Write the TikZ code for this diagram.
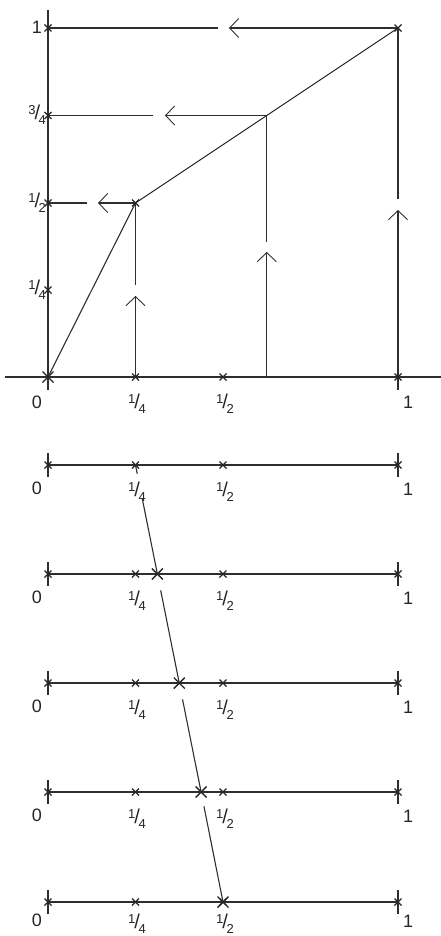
\documentclass[tikz,border=0pt]{standalone}
\usepackage{fontspec}
\setmainfont{Liberation Sans}
\usetikzlibrary{arrows.meta,calc}
\newcommand\frc[2]{{\fontsize{13}{13}\selectfont\raisebox{5pt}{#1}\kern-1pt{\fontsize{20}{20}\selectfont/}\kern-1.5pt\raisebox{-5pt}{#2}}}
\tikzset{
  ln/.style={line width=1.1pt, draw=black!82},
  arr/.style={ln, -{Straight Barb[length=9pt,width=19pt,line width=0.9pt]}},
  lbl/.style={inner sep=0pt, font=\fontsize{18}{18}\selectfont, text=black!85},
  frl/.style={inner sep=0pt, text=black!85},
  mk/.pic={\draw[line width=1.3pt, black!85] (-3.5,-3.5)--(3.5,3.5) (-3.5,3.5)--(3.5,-3.5);},
  bigmk/.pic={\draw[line width=1.4pt, black!85] (-5.5,-5.5)--(5.5,5.5) (-5.5,5.5)--(5.5,-5.5);}
}
\begin{document}
\begin{tikzpicture}[x=1pt,y=-1pt]
\useasboundingbox (0,0) rectangle (441,936);
% ---------- top graph ----------
\coordinate (O) at (48,377);
\coordinate (Vtop) at (48,10);
\coordinate (Vbot) at (48,390);
\coordinate (Hl) at (5,377);
\coordinate (Hr) at (441,377);
\coordinate (Y1) at (48,28);
\coordinate (Y34) at (48,115.5);
\coordinate (Y12) at (48,203);
\coordinate (Y14) at (48,290);
\coordinate (X14) at (135.5,377);
\coordinate (X12) at (223,377);
\coordinate (Xp) at (266.75,377);
\coordinate (X1) at (398,377);
\coordinate (X1b) at (398,390);
\coordinate (P1) at (135.5,203);
\coordinate (P2) at (266.75,115.5);
\coordinate (P3) at (398,28);
% axes
\draw[ln] (Vtop) -- (Vbot);
\draw[ln] (Hl) -- (Hr);
\draw[ln] (X1) -- (X1b);
% graph
\draw[ln] (O) -- (P1) -- (P2) -- (P3);
% horizontal arrows (toward the axis)
\coordinate (T1) at (229,28);   \coordinate (G1) at (218,28);
\coordinate (T2) at (165,115.5);\coordinate (G2) at (153,115.5);
\coordinate (T3) at (98,203);   \coordinate (G3) at (87,203);
\draw[arr] (P3) -- (T1); \draw[ln] (G1) -- (Y1);
\draw[arr] (P2) -- (T2); \draw[ln] (G2) -- (Y34);
\draw[arr] (P1) -- (T3); \draw[ln] (G3) -- (Y12);
% vertical arrows (upward)
\coordinate (U1) at (135.5,296); \coordinate (W1) at (135.5,285);
\coordinate (U2) at (266.75,252);\coordinate (W2) at (266.75,242);
\coordinate (U3) at (398,210);   \coordinate (W3) at (398,199);
\draw[arr] (X14) -- (U1); \draw[ln] (W1) -- (P1);
\draw[arr] (Xp) -- (U2);  \draw[ln] (W2) -- (P2);
\draw[arr] (X1) -- (U3);  \draw[ln] (W3) -- (P3);
% marks
\foreach \c in {Y1,Y34,Y12,Y14,X14,X12,X1,P1,P3} \pic at (\c) {mk};
\pic at (O) {bigmk};
% labels
\node[lbl] (ly1) at (37,27) {1};
\node[frl, anchor=east] (ly34) at (46,115) {\frc34};
\node[frl, anchor=east] (ly12) at (46,203) {\frc12};
\node[frl, anchor=east] (ly14) at (46,290) {\frc14};
\node[lbl] (lx0) at (37,402) {0};
\node[frl] (lx14) at (137,404) {\frc14};
\node[frl] (lx12) at (225,404) {\frc12};
\node[lbl] (lx1) at (408,402) {1};
% ---------- lower number lines ----------
\foreach \i/\y/\p/\d in {1/465/135.5/27, 2/574/157.4/27, 3/683/179.25/27, 4/792/201.1/27, 5/902/223/22}{
  \coordinate (A\i) at (48,\y);
  \coordinate (B\i) at (398,\y);
  \coordinate (C\i) at (135.5,\y);
  \coordinate (D\i) at (223,\y);
  \coordinate (Q\i) at (\p,\y);
  \draw[ln] (A\i) -- (B\i);
  \draw[ln] (48,\y-12) -- (48,\y+12);
  \draw[ln] (398,\y-12) -- (398,\y+12);
  \pic at (A\i) {mk};
  \pic at (B\i) {mk};
  \pic at (C\i) {mk};
  \pic at (D\i) {mk};
  \node[lbl] (z\i) at (37,\y+\d-4) {0};
  \node[frl] (q\i) at (137,\y+\d) {\frc14};
  \node[frl] (h\i) at (225,\y+\d) {\frc12};
  \node[lbl] (o\i) at (408,\y+\d-3) {1};
}
\foreach \i in {2,3,4,5} \pic at (Q\i) {bigmk};
% moving point path
\draw[ln] (Q1) -- ($(Q1)!0.08!(Q2)$);
\draw[ln] ($(Q1)!0.31!(Q2)$) -- (Q2);
\draw[ln] ($(Q2)!0.15!(Q3)$) -- (Q3);
\draw[ln] ($(Q3)!0.15!(Q4)$) -- (Q4);
\draw[ln] ($(Q4)!0.13!(Q5)$) -- (Q5);
\end{tikzpicture}
\end{document}
